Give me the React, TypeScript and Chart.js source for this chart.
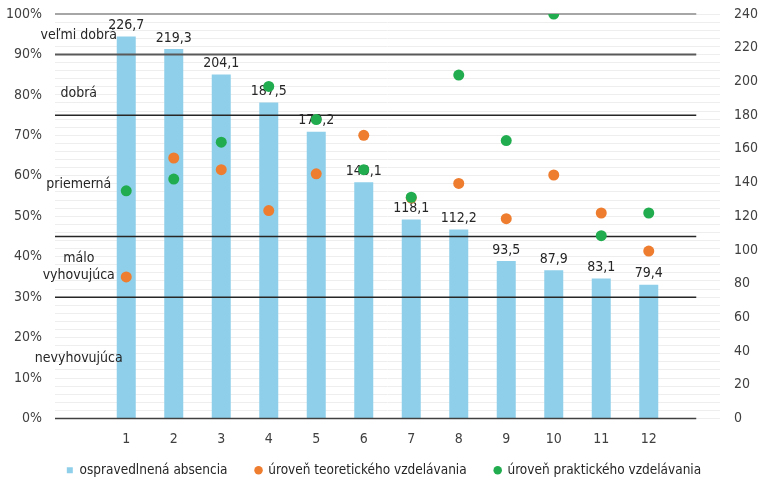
import React, { useEffect, useRef } from 'react';
import { Chart, registerables } from 'chart.js';

Chart.register(...registerables);

const categories = ['', '1', '2', '3', '4', '5', '6', '7', '8', '9', '10', '11', '12', ''];
const absence = [null, 226.7, 219.3, 204.1, 187.5, 170.2, 140.1, 118.1, 112.2, 93.5, 87.9, 83.1, 79.4, null];
const theory = [null, 35, 64.4, 61.5, 51.4, 60.5, 70, 54.5, 58.1, 49.4, 60.2, 50.8, 41.4, null];
const practice = [null, 56.3, 59.2, 68.3, 82.1, 73.9, 61.5, 54.7, 84.9, 68.7, 100, 45.2, 50.8, null];
const thresholds = [0, 30, 45, 75, 90, 100];
const bandNames = [['veľmi dobrá'], ['dobrá'], ['priemerná'], ['málo', 'vyhovujúca'], ['nevyhovujúca']];
const bandValues = [94.8, 80.4, 58, 37.4, 14.9];
const seriesNames = ['ospravedlnená absencia', 'úroveň teoretického vzdelávania', 'úroveň praktického vzdelávania'];

const FONT = '"Liberation Sans Narrow", "DejaVu Sans Condensed", Roboto, sans-serif';

const lineStyle: Record<number, [string, number]> = {
  0: ['#404040', 1.5],
  30: ['#262626', 1.5],
  45: ['#262626', 1.5],
  75: ['#262626', 1.5],
  90: ['#595959', 2],
  100: ['#a6a6a6', 2],
};

const overlayPlugin = {
  id: 'overlay',
  afterLayout(chart: any) {
    // let the x tick labels overflow into the legend's padding without clipping
    chart.scales.x.bottom += 30;
  },
  afterDatasetDraw(chart: any, args: any) {
    if (args.index !== 0) return;
    const ctx = chart.ctx;
    const { left } = chart.chartArea;
    const xs = chart.scales.x;
    const y = chart.scales.y;
    const y2 = chart.scales.y2;
    const xEnd = xs.getPixelForValue(categories.length - 1);
    ctx.save();
    thresholds.forEach((t) => {
      const [c, w] = lineStyle[t];
      const py = y.getPixelForValue(t);
      ctx.strokeStyle = c;
      ctx.lineWidth = w;
      ctx.beginPath();
      ctx.moveTo(left, py);
      ctx.lineTo(xEnd, py);
      ctx.stroke();
    });
    ctx.fillStyle = '#262626';
    ctx.font = '14px ' + FONT;
    ctx.textAlign = 'center';
    ctx.textBaseline = 'middle';
    absence.forEach((v, i) => {
      if (v == null) return;
      const px = xs.getPixelForValue(i);
      const py = y2.getPixelForValue(v);
      ctx.fillText(v.toFixed(1).replace('.', ','), px, py - 11);
    });
    const x0 = xs.getPixelForValue(0);
    bandNames.forEach((lines, k) => {
      const py = y.getPixelForValue(bandValues[k]);
      const lh = 17;
      lines.forEach((ln, j) => {
        ctx.fillText(ln, x0, py + (j - (lines.length - 1) / 2) * lh);
      });
    });
    ctx.restore();
  },
};

export default function App() {
  const ref = useRef<HTMLCanvasElement | null>(null);
  useEffect(() => {
    if (!ref.current) return;
    const chart = new Chart(ref.current, {
      type: 'bar',
      data: {
        labels: categories,
        datasets: [
          {
            type: 'bar',
            label: seriesNames[0],
            data: absence,
            backgroundColor: '#8fcfea',
            yAxisID: 'y2',
            barPercentage: 0.4,
            categoryPercentage: 1,
            order: 2,
          },
          {
            type: 'line',
            label: seriesNames[1],
            data: theory,
            showLine: false,
            pointRadius: 5.5,
            pointBackgroundColor: '#ee7d2f',
            pointBorderWidth: 0,
            backgroundColor: '#ee7d2f',
            borderColor: '#ee7d2f',
            yAxisID: 'y',
            order: 1,
          },
          {
            type: 'line',
            label: seriesNames[2],
            data: practice,
            showLine: false,
            pointRadius: 5.5,
            pointBackgroundColor: '#21ad4f',
            pointBorderWidth: 0,
            backgroundColor: '#21ad4f',
            borderColor: '#21ad4f',
            yAxisID: 'y',
            order: 0,
          },
        ] as any,
      },
      options: {
        animation: false,
        responsive: true,
        maintainAspectRatio: false,
        layout: { padding: { top: 14, bottom: 5, left: 0, right: 0 } },
        plugins: {
          tooltip: { enabled: false },
          legend: {
            position: 'bottom',
            labels: {
              usePointStyle: true,
              boxWidth: 6,
              boxHeight: 6,
              padding: 28,
              color: '#262626',
              font: { family: FONT, size: 13.5 },
              sort: (a: any, b: any) => a.datasetIndex - b.datasetIndex,
              generateLabels: (c: any) => {
                const items = Chart.defaults.plugins.legend.labels.generateLabels(c);
                items.forEach((it: any) => {
                  it.pointStyle = it.datasetIndex === 0 ? 'rect' : 'circle';
                  it.lineWidth = 0;
                  it.strokeStyle = 'rgba(0,0,0,0)';
                });
                return items;
              },
            },
          },
        },
        scales: {
          x: {
            grid: { display: false, drawTicks: false },
            border: { display: false },
            ticks: { color: '#404040', font: { family: FONT, size: 14 }, padding: 12, autoSkip: false, maxRotation: 0 },
            afterFit: (s: any) => { s.height = 17; },
          },
          y: {
            position: 'left',
            min: 0,
            max: 100,
            border: { display: false },
            grid: { color: '#eeeeee', lineWidth: 1, drawTicks: true, tickLength: 13, tickColor: 'rgba(0,0,0,0)' },
            ticks: {
              stepSize: 2,
              autoSkip: false,
              maxTicksLimit: 100,
              padding: 0,
              color: '#404040',
              font: { family: FONT, size: 14 },
              callback: (v: any) => (Number(v) % 10 === 0 ? v + '%' : ''),
            },
            afterFit: (s: any) => { s.width = 55; },
          },
          y2: {
            position: 'right',
            min: 0,
            max: 240,
            border: { display: false },
            grid: { display: false, drawTicks: true, tickLength: 14 },
            ticks: {
              stepSize: 20,
              padding: 0,
              color: '#404040',
              font: { family: FONT, size: 14 },
            },
            afterFit: (s: any) => { s.width = 48; },
          },
        },
      },
      plugins: [overlayPlugin],
    });
    return () => chart.destroy();
  }, []);
  return (
    <div style={{ position: 'fixed', left: 0, top: 0, width: 768, height: 492, background: '#fff' }}>
      <canvas ref={ref} />
    </div>
  );
}
